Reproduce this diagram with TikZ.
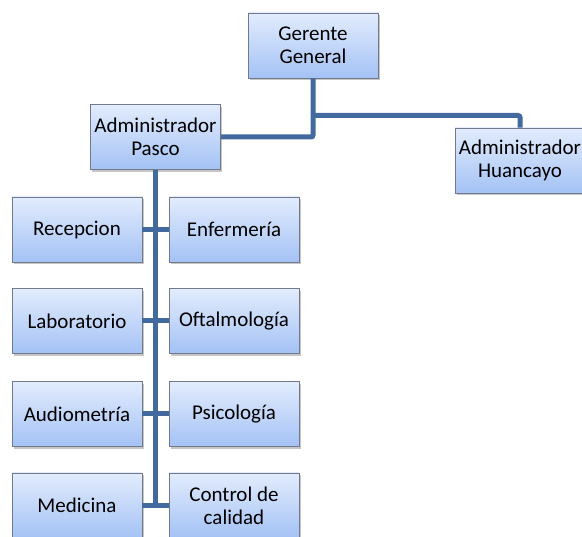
\documentclass[tikz,border=0pt]{standalone}
\usepackage{fontspec}
\setmainfont{Carlito}
\usepackage{tikz}
\usetikzlibrary{positioning,shadows}
\usepackage{xcolor}

\definecolor{boxtop}{RGB}{226,236,253}
\definecolor{boxbot}{RGB}{164,194,245}
\definecolor{boxline}{RGB}{112,122,138}
\definecolor{linkblue}{RGB}{66,106,158}

\tikzset{
  puesto/.style={draw=boxline, line width=0.8pt, top color=boxtop, bottom color=boxbot,
    minimum width=130pt, minimum height=65pt, inner sep=0pt, align=center,
    font=\fontsize{21}{23}\selectfont,
    drop shadow={shadow xshift=1.5pt, shadow yshift=-2.5pt, opacity=0.45}},
  enlace/.style={draw=linkblue, line width=5pt, rounded corners=2pt}
}

\begin{document}
\begin{tikzpicture}[x=1pt, y=-1pt]

  % Page
  \useasboundingbox (0,0) rectangle (582,537);

  % Top levels
  \node[puesto] (gerente) at (313,45.5) {Gerente\\General};
  \node[puesto] (pasco) at (155.5,137) {Administrador\\Pasco};
  \node[puesto] (huancayo) at (520,160.5) {Administrador\\Huancayo};

  % Areas of Pasco
  \node[puesto] (recepcion) at (77,229.5) {Recepcion};
  \node[puesto] (enfermeria) at (234,229.5) {Enfermería};
  \node[puesto] (laboratorio) at (77,321) {Laboratorio};
  \node[puesto] (oftalmologia) at (234,321) {Oftalmología};
  \node[puesto] (audiometria) at (77,414) {Audiometría};
  \node[puesto] (psicologia) at (234,414) {Psicología};
  \node[puesto] (medicina) at (77,505.5) {Medicina};
  \node[puesto] (calidad) at (234,505.5) {Control de\\calidad};

  % Links
  \coordinate (rama) at (313,115.5);
  \draw[enlace] (gerente.south) |- (pasco.east);
  \draw[enlace] (rama) -| (huancayo.north);
  \draw[enlace] (pasco.south) -- (pasco.south |- medicina);
  \draw[enlace] (recepcion.east) -- (enfermeria.west);
  \draw[enlace] (laboratorio.east) -- (oftalmologia.west);
  \draw[enlace] (audiometria.east) -- (psicologia.west);
  \draw[enlace] (medicina.east) -- (calidad.west);

\end{tikzpicture}
\end{document}
